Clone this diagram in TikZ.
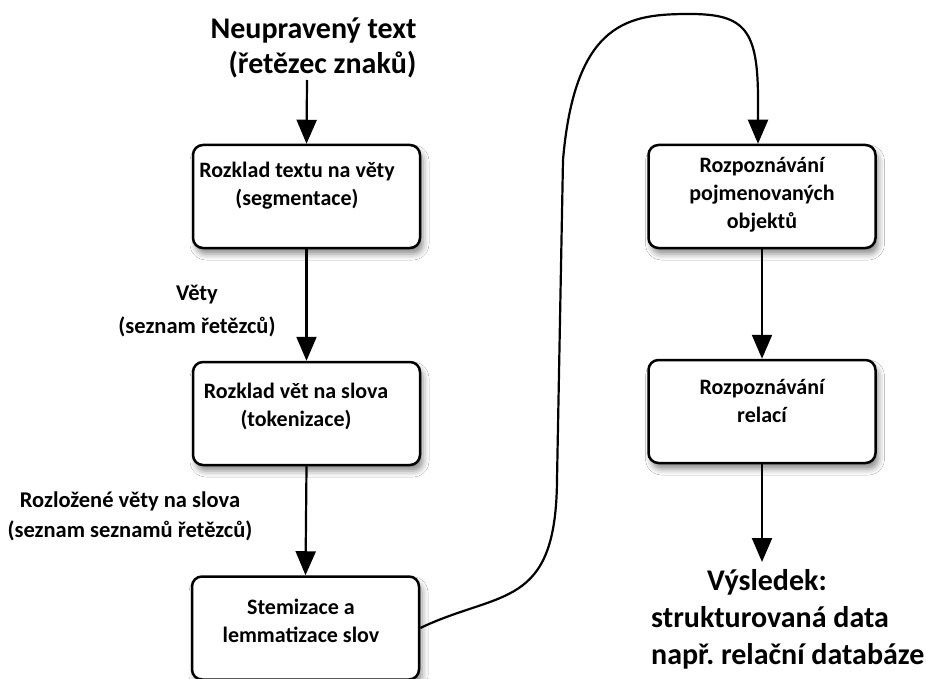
\documentclass[tikz,border=0pt]{standalone}
\usepackage{fontspec}
\setmainfont{Carlito}
\usepackage{tikz}
\usetikzlibrary{arrows.meta,shadows.blur}
\frenchspacing

\begin{document}
\begin{tikzpicture}[x=1pt,y=-1pt,
    box/.style={draw, line width=2.5pt, rounded corners=10pt, fill=white,
      minimum width=227pt, minimum height=103pt,
      blur shadow={shadow xshift=3pt, shadow yshift=-6pt, shadow opacity=45, shadow blur radius=6pt}},
    boxtext/.style={align=center, font=\bfseries\fontsize{22}{28}\selectfont},
    note/.style={align=center, font=\bfseries\fontsize{22.5}{33}\selectfont},
    big/.style={font=\bfseries\fontsize{30}{35}\selectfont},
    link/.style={line width=2.2pt, -{Triangle[width=20pt,length=24pt]}}]
    \useasboundingbox[fill=white] (0,0) rectangle (926,679);

    \node[big, align=right, anchor=east] (input) at (420, 48) {Neupravený text\\(řetězec znaků)};
    \coordinate (inputEnd) at (307, 80);

    \node[box] (seg) at (306.5, 196.5) {};
    \node[boxtext] (segT) at (297, 186) {Rozklad textu na věty\\(segmentace)};
    \node[box] (tok) at (306.5, 413.5) {};
    \node[boxtext] (tokT) at (296, 406) {Rozklad vět na slova\\(tokenizace)};
    \node[box] (lem) at (305.5, 628) {};
    \node[boxtext] (lemT) at (301, 621) {Stemizace a\\lemmatizace slov};

    \node[box] (ner) at (762, 196.5) {};
    \node[boxtext] (nerT) at (762, 195) {Rozpoznávání\\pojmenovaných\\objektů};
    \node[box] (rel) at (762, 411.5) {};
    \node[boxtext] (relT) at (762, 401) {Rozpoznávání\\relací};

    \node[note] (vety) at (197, 311) {Věty\\(seznam řetězců)};
    \node[note, font=\bfseries\fontsize{22.5}{30}\selectfont] (slova) at (130, 516) {Rozložené věty na slova\\(seznam seznamů řetězců)};

    \node[big, align=left, anchor=north west, inner sep=0pt, font=\bfseries\fontsize{30}{37}\selectfont] (res) at (651, 569)
      {\hspace*{56pt}Výsledek:\\strukturovaná data\\např. relační databáze};
    \coordinate (resTop) at (762, 562);

    \draw[link] (inputEnd) -- (seg.north);
    \draw[link] (seg.south) -- (tok.north);
    \draw[link] (tok.south) -- (lem.north);
    \draw[link] (ner.south) -- (rel.north);
    \draw[link] (rel.south) -- (resTop);
    \draw[link] (lem.east) .. controls (500, 590) and (556, 610) .. (557, 480)
      -- (563, 160) .. controls (575, 20) and (630, 14) .. (690, 14)
      .. controls (745, 14) and (758, 30) .. (758, 100) -- ([xshift=-4pt]ner.north);
\end{tikzpicture}
\end{document}
